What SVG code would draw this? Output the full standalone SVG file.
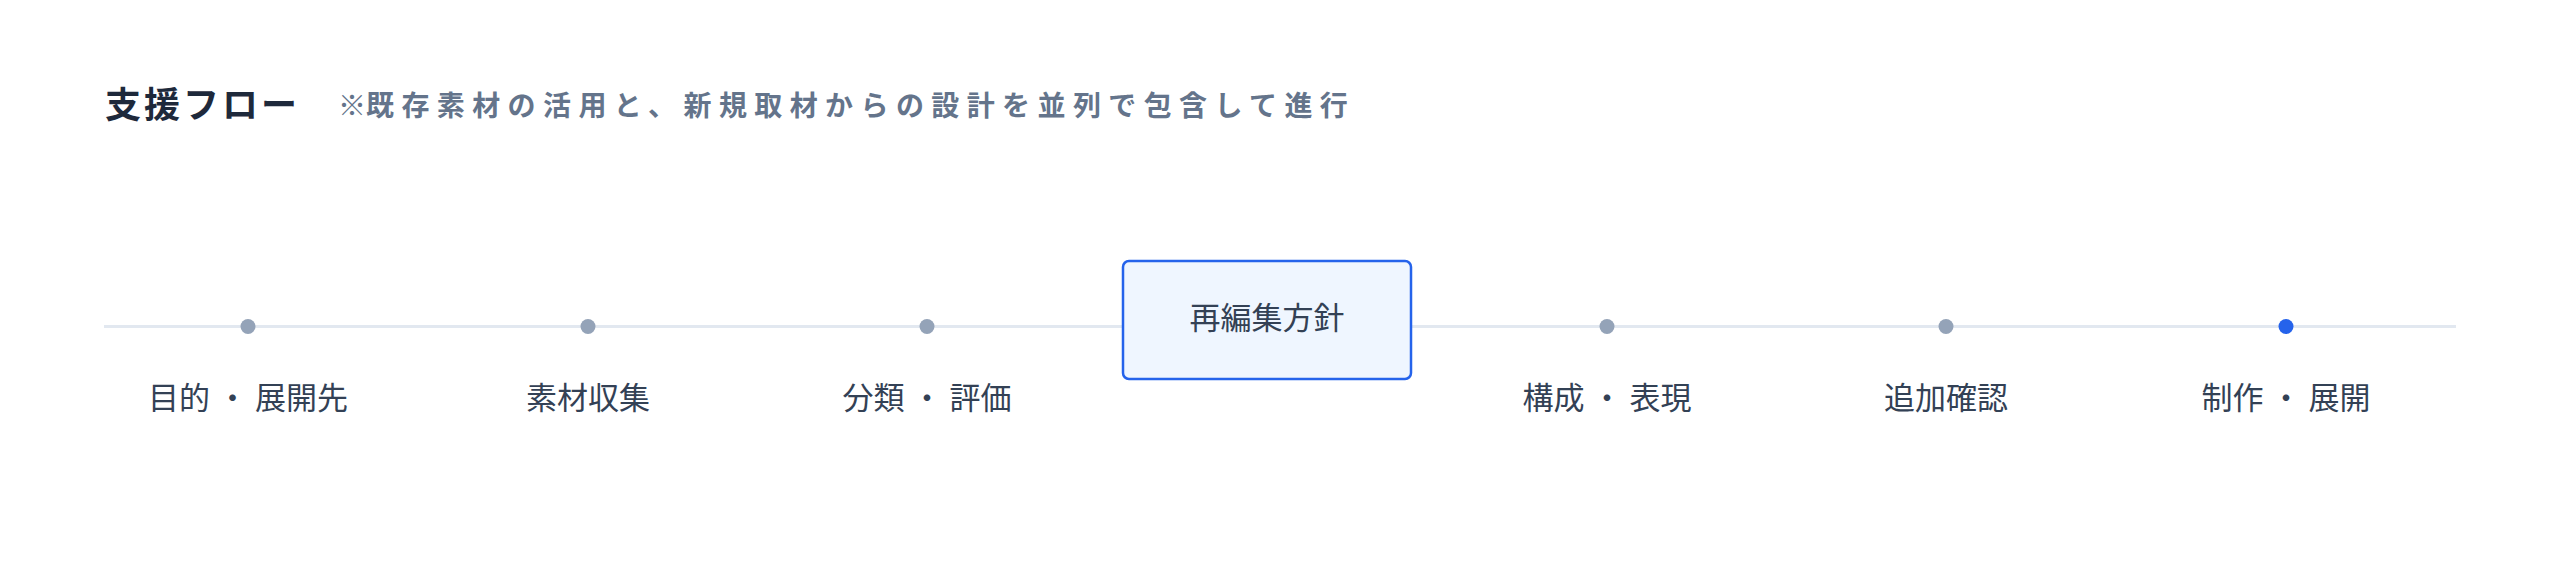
<svg xmlns="http://www.w3.org/2000/svg" width="2560" height="575" viewBox="0 0 2560 575">
<style>
.title{font-family:"Noto Sans CJK JP","Noto Sans CJK SC",sans-serif;font-weight:700;font-size:36px;fill:#1e293b;letter-spacing:3px}
.sub{font-family:"Noto Sans CJK JP","Noto Sans CJK SC",sans-serif;font-weight:700;font-size:28px;fill:#64748b}
.lbl{font-family:"Noto Sans CJK JP","Noto Sans CJK SC",sans-serif;font-weight:400;font-size:31px;fill:#334155;text-anchor:middle}
.dot{fill:#94a3b8}
.dot.active{fill:#2563eb}
.box{fill:#eff6ff;stroke:#2563eb;stroke-width:2.5}
</style>
<rect width="2560" height="575" fill="#ffffff"/>
<g id="header">
<text class="title" x="105" y="118">支援フロー</text>
<text class="sub" y="116"><tspan x="338">※</tspan><tspan x="366" letter-spacing="7.4">既存素材の活用と、新規取材からの設計を並列で包含して進行</tspan></text>
</g>
<g id="connectors">
<line x1="104" y1="326.5" x2="2456" y2="326.5" stroke="#e2e8f0" stroke-width="3"/>
</g>
<g id="step1">
<circle class="dot" cx="248" cy="326.5" r="7.5"/>
<text class="lbl" x="248" y="409">目的 ・ 展開先</text>
</g>
<g id="step2">
<circle class="dot" cx="588" cy="326.5" r="7.5"/>
<text class="lbl" x="588" y="409">素材収集</text>
</g>
<g id="step3">
<circle class="dot" cx="927" cy="326.5" r="7.5"/>
<text class="lbl" x="927" y="409">分類 ・ 評価</text>
</g>
<g id="step4">
<rect class="box" x="1123" y="261" width="288" height="118" rx="6"/>
<text class="lbl" x="1267" y="329">再編集方針</text>
</g>
<g id="step5">
<circle class="dot" cx="1607" cy="326.5" r="7.5"/>
<text class="lbl" x="1607" y="409">構成 ・ 表現</text>
</g>
<g id="step6">
<circle class="dot" cx="1946" cy="326.5" r="7.5"/>
<text class="lbl" x="1946" y="409">追加確認</text>
</g>
<g id="step7">
<circle class="dot active" cx="2286" cy="326.5" r="7.5"/>
<text class="lbl" x="2286" y="409">制作 ・ 展開</text>
</g>
</svg>
